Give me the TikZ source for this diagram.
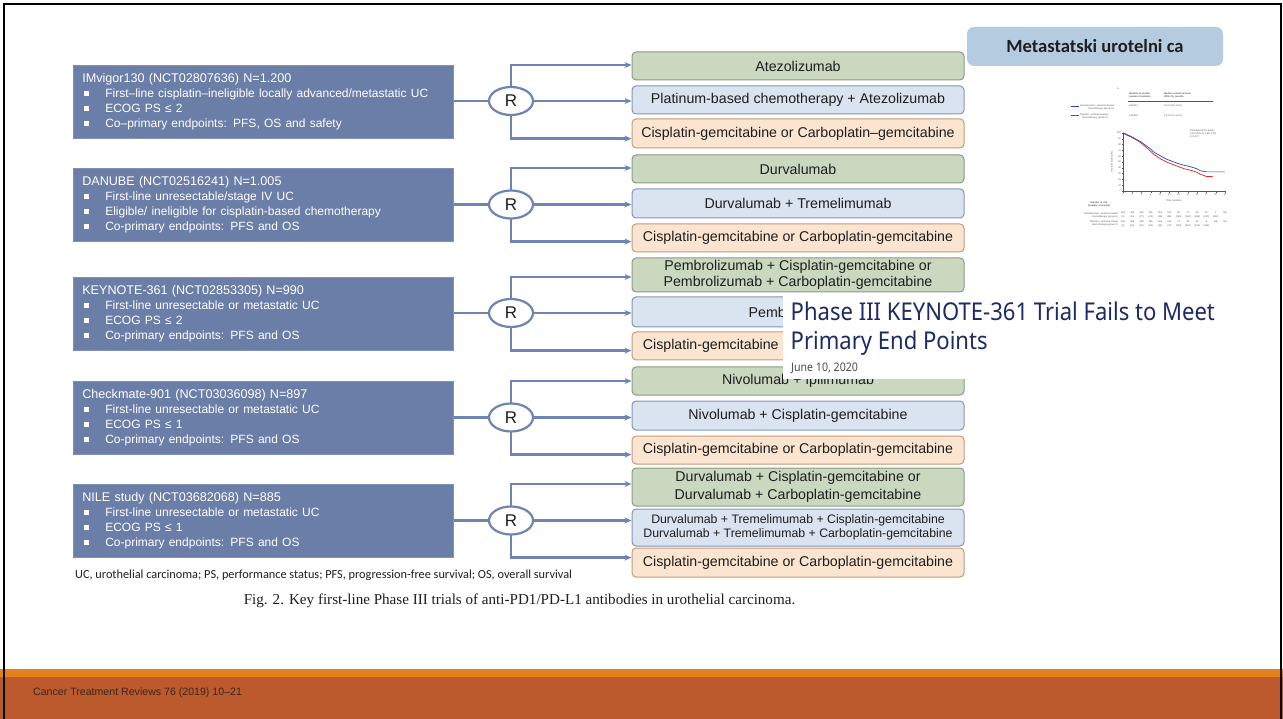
\documentclass[tikz,border=0pt]{standalone}
\usepackage{fontspec}
\setmainfont{Liberation Sans}
\newfontfamily\carlito{Carlito}
\newfontfamily\serifF{Liberation Serif}
\newfontfamily\ovfont[FakeStretch=0.9]{Noto Sans}
\usetikzlibrary{shapes.geometric,arrows.meta,calc}
\definecolor{lboxc}{RGB}{106,126,168}
\definecolor{armc}{RGB}{110,132,180}
\definecolor{txt}{RGB}{30,30,30}
\definecolor{gfill}{RGB}{203,216,192}
\definecolor{gdraw}{RGB}{140,154,132}
\definecolor{bfill}{RGB}{218,227,240}
\definecolor{bdraw}{RGB}{132,148,182}
\definecolor{ofill}{RGB}{251,228,208}
\definecolor{odraw}{RGB}{196,156,122}
\definecolor{titlec}{RGB}{181,204,224}
\definecolor{ovc}{RGB}{30,42,100}
\definecolor{orangec}{RGB}{227,130,26}
\definecolor{brownc}{RGB}{188,89,45}
\definecolor{foottxt}{RGB}{58,40,30}
\definecolor{kmtext}{RGB}{85,85,85}
\definecolor{kmblue}{RGB}{40,70,180}
\definecolor{kmred}{RGB}{230,30,30}
\newcommand\lbul{\makebox[23pt][l]{\hspace{2pt}\raisebox{2pt}{\rule{4.6pt}{4.6pt}}}}
\newcommand\bsz{\fontsize{12.0}{15.2}\selectfont}
\begin{document}
\begin{tikzpicture}[x=1pt,y=-1pt,
  lbox/.style={fill=lboxc, draw=lboxc!85!white, line width=0.6pt, minimum width=380pt,
    minimum height=73pt, text width=362pt, inner xsep=9pt, inner ysep=0pt, align=left,
    text=white, font=\fontsize{12.6}{15.2}\selectfont, anchor=north west},
  rbox/.style={draw, rounded corners=4pt, line width=1pt, minimum width=332pt, inner sep=1pt,
    align=center, text=txt, font=\fontsize{14.2}{16}\selectfont},
  gbox/.style={rbox, fill=gfill, draw=gdraw},
  bbox/.style={rbox, fill=bfill, draw=bdraw},
  obox/.style={rbox, fill=ofill, draw=odraw},
  rnode/.style={ellipse, draw=armc, line width=2.2pt, fill=white, minimum width=44pt,
    minimum height=28pt, inner sep=0pt, font=\fontsize{17}{17}\selectfont, text=txt},
  arm/.style={draw=armc, line width=2.5pt},
  armto/.style={arm, -{Stealth[length=7pt,width=6pt]}},
  kmt/.style={inner sep=0pt, text=kmtext, font=\fontsize{2.4}{2.9}\selectfont},
]
\useasboundingbox (0,0) rectangle (1283,719);
\fill[white] (0,0) rectangle (1283,719);

% ---------- left trial boxes ----------
\node[lbox] (L1) at (73,65) {IMvigor130 (NCT02807636) N=1.200\\
\lbul\bsz First–line cisplatin–ineligible locally advanced/metastatic UC\\
\lbul\bsz ECOG PS ≤ 2\\
\lbul\bsz Co–primary endpoints: PFS, OS and safety};
\node[lbox] (L2) at (73,168) {DANUBE (NCT02516241) N=1.005\\
\lbul\bsz First-line unresectable/stage IV UC\\
\lbul\bsz Eligible/ ineligible for cisplatin-based chemotherapy\\
\lbul\bsz Co-primary endpoints: PFS and OS};
\node[lbox] (L3) at (73,277) {KEYNOTE-361 (NCT02853305) N=990\\
\lbul\bsz First-line unresectable or metastatic UC\\
\lbul\bsz ECOG PS ≤ 2\\
\lbul\bsz Co-primary endpoints: PFS and OS};
\node[lbox] (L4) at (73,381) {Checkmate-901 (NCT03036098) N=897\\
\lbul\bsz First-line unresectable or metastatic UC\\
\lbul\bsz ECOG PS ≤ 1\\
\lbul\bsz Co-primary endpoints: PFS and OS};
\node[lbox] (L5) at (73,484) {NILE study (NCT03682068) N=885\\
\lbul\bsz First-line unresectable or metastatic UC\\
\lbul\bsz ECOG PS ≤ 1\\
\lbul\bsz Co-primary endpoints: PFS and OS};

% ---------- right arm boxes ----------
\node[gbox, minimum height=28pt] (a1) at (798,66) {Atezolizumab};
\node[bbox, minimum height=28pt] (b1) at (798,100) {Platinum-based chemotherapy + Atezolizumab};
\node[obox, minimum height=29pt] (c1) at (798,133.5) {Cisplatin-gemcitabine or Carboplatin–gemcitabine};

\node[gbox, minimum height=28pt] (a2) at (798,169) {Durvalumab};
\node[bbox, minimum height=29pt] (b2) at (798,203.5) {Durvalumab + Tremelimumab};
\node[obox, minimum height=28pt] (c2) at (798,238) {Cisplatin-gemcitabine or Carboplatin-gemcitabine};

\node[gbox, minimum height=34pt] (a3) at (798,275) {Pembrolizumab + Cisplatin-gemcitabine or\\Pembrolizumab + Carboplatin-gemcitabine};
\node[bbox, minimum height=30pt] (b3) at (798,312) {Pembrolizumab};
\node[obox, minimum height=28pt] (c3) at (798,346) {Cisplatin-gemcitabine or Carboplatin-gemcitabine};

\node[gbox, minimum height=28pt] (a4) at (798,381) {Nivolumab + Ipilimumab};
\node[bbox, minimum height=29pt] (b4) at (798,415.5) {Nivolumab + Cisplatin-gemcitabine};
\node[obox, minimum height=28pt] (c4) at (798,450) {Cisplatin-gemcitabine or Carboplatin-gemcitabine};

\node[gbox, minimum height=38pt, font=\fontsize{14.2}{17.5}\selectfont] (a5) at (798,487) {Durvalumab + Cisplatin-gemcitabine or\\Durvalumab + Carboplatin-gemcitabine};
\node[bbox, minimum height=37pt, font=\fontsize{12.3}{14.2}\selectfont] (b5) at (798,527.5) {Durvalumab + Tremelimumab + Cisplatin-gemcitabine\\Durvalumab + Tremelimumab + Carboplatin-gemcitabine};
\node[obox, minimum height=29pt] (c5) at (798,562.5) {Cisplatin-gemcitabine or Carboplatin-gemcitabine};

% ---------- randomisation nodes and connectors ----------
\foreach \i/\ry in {1/101,2/204.5,3/313,4/417.5,5/520.5}{
  \draw[arm] (L\i.east |- 0,\ry) -- (489,\ry);
}
\foreach \i/\ry in {1/101,2/204.5,3/313,4/417.5,5/520.5}{
  \coordinate (Rc\i) at (511,\ry);
  \draw[armto] (Rc\i) |- (a\i.west |- L\i.north);
  \draw[armto] (Rc\i) |- (c\i.west |- L\i.south);
  \draw[armto] (Rc\i) -- (b\i.west |- Rc\i);
  \node[rnode] (R\i) at (Rc\i) {R};
}

% ---------- captions ----------
\node[anchor=west, inner sep=0pt, text=txt, font=\carlito\fontsize{12.3}{14}\selectfont] (abbr) at (75,575)
  {UC, urothelial carcinoma; PS, performance status; PFS, progression-free survival; OS, overall survival};
\node[inner sep=0pt, text=txt, font=\serifF\fontsize{15.1}{16}\selectfont] (figcap) at (519.5,601)
  {Fig. 2. Key first-line Phase III trials of anti-PD1/PD-L1 antibodies in urothelial carcinoma.};

% ---------- slide title ----------
\node[fill=titlec, rounded corners=7pt, minimum width=256pt, minimum height=39pt, inner sep=0pt,
  text=txt, font=\carlito\bfseries\fontsize{18.6}{20}\selectfont] (title) at (1095,46.5) {Metastatski urotelni ca};

% ---------- small KM chart ----------
\node[kmt, anchor=west] (kmA) at (1117,89) {A};
\node[kmt, anchor=west, align=left, font=\bfseries\fontsize{2.4}{2.9}\selectfont] (kmh1) at (1129,95.5) {Number of events/\\number of patients};
\node[kmt, anchor=west, align=left, font=\bfseries\fontsize{2.4}{2.9}\selectfont] (kmh2) at (1164,95.5) {Median overall survival\\(95\% CI), months};
\draw[kmtext, line width=0.4pt] (1128,101.5) -- (1213,101.5);
\draw[kmblue, line width=0.6pt] (1071,106) -- (1079,106);
\node[kmt, anchor=west, align=right] (kml1) at (1080,107.5) {Atezolizumab + platinum-based\\chemotherapy (group A)};
\node[kmt, anchor=west] (kmn1) at (1129,106) {255/451};
\node[kmt, anchor=west] (kmm1) at (1164,106) {16.0 (13.9–18.9)};
\draw[kmred, line width=0.6pt] (1071,115) -- (1079,115);
\node[kmt, anchor=west, align=right] (kml2) at (1080,116.5) {Placebo + platinum-based\\chemotherapy (group C)};
\node[kmt, anchor=west] (kmn2) at (1129,115.5) {210/400};
\node[kmt, anchor=west] (kmm2) at (1164,115.5) {13.4 (12.0–15.2)};
\node[kmt, anchor=north west, align=left] (kmhr) at (1190,130) {Stratified HR for death,\\0.83 (95\% CI 0.69–1.00)\\p=0.027};
\begin{scope}[shift={(1123,191)}, x=3.09pt, y=0.58pt]
  \draw[kmtext, line width=0.35pt] (0,100) -- (0,0) -- (33,0);
  \foreach \t in {0,10,...,100}{
    \draw[kmtext, line width=0.3pt] (0,\t) -- (-0.4,\t);
    \node[kmt, anchor=east] at (-0.6,\t) {\t};
  }
  \foreach \m in {0,3,...,33}{
    \draw[kmtext, line width=0.3pt] (\m,0) -- (\m,-3);
    \node[kmt, anchor=north] at (\m,-5) {\m};
  }
  \node[kmt, rotate=90] (kmyl) at (-3.6,50) {Overall survival (\%)};
  \node[kmt] (kmxl) at (16.5,-17) {Time (months)};
  \draw[kmred, line width=0.7pt] (0,100) -- (1,97) -- (3,92) -- (5,86) -- (6,82) -- (8,73) -- (9,68) -- (10,63)
    -- (12,56) -- (14,50) -- (15,48) -- (17,44) -- (18,42) -- (20,38) -- (21,37) -- (23,34) -- (24,32)
    -- (25,29) -- (26,27) -- (27,25) -- (29,25);
  \draw[kmblue, line width=0.7pt] (0,100) -- (1,98) -- (3,93) -- (5,87) -- (6,84) -- (8,76) -- (9,72) -- (10,67)
    -- (12,61) -- (14,55) -- (15,53) -- (17,49) -- (18,47) -- (20,44) -- (21,43) -- (23,40) -- (24,38)
    -- (25,35) -- (26,34) -- (27,33) -- (33,33);
  \foreach \m/\a/\ac/\c/\cc [count=\k] in {0/451/(0)/400/(0),3/409/(14)/359/(13),6/360/(17)/308/(20),
     9/301/(21)/261/(24),12/259/(26)/202/(40),15/193/(88)/133/(70),18/127/(148)/74/(109),
     21/71/(154)/40/(130),24/28/(184)/21/(153),27/10/(200)/8/(164),30/1/(212)/NE/{},33/NE/{}/NE/{}}{
    \node[kmt] at (\m,-38) {\a};
    \node[kmt] at (\m,-45) {\ac};
    \node[kmt] at (\m,-53) {\c};
    \node[kmt] at (\m,-60) {\cc};
  }
\end{scope}
\node[kmt, anchor=east, align=center, font=\bfseries\fontsize{2.4}{2.9}\selectfont] (kmrisk) at (1110,204.5) {Number at risk\\(number censored)};
\node[kmt, anchor=east, align=right] (kmra) at (1118,215) {Atezolizumab + platinum-based\\chemotherapy (group A)};
\node[kmt, anchor=east, align=right] (kmrc) at (1118,223.5) {Placebo + platinum-based\\chemotherapy (group C)};

% ---------- overlay (web article snippet) ----------
\fill[white] (783,294.5) rectangle (1236,379);
\node[anchor=base west, inner sep=0pt, text=ovc, font=\ovfont\fontsize{24.5}{29}\selectfont] (ov1) at (790.5,321) {Phase III KEYNOTE-361 Trial Fails to Meet};
\node[anchor=base west, inner sep=0pt, text=ovc, font=\ovfont\fontsize{24.5}{29}\selectfont] (ov2) at (790.5,350) {Primary End Points};
\node[anchor=base west, inner sep=0pt, text=black!70, font=\ovfont\fontsize{11.8}{14}\selectfont] (ovd) at (791,372) {June 10, 2020};

% ---------- footer ----------
\fill[orangec] (0,669) rectangle (1283,676.5);
\fill[brownc] (0,676.5) rectangle (1283,719);
\node[anchor=west, inner sep=0pt, text=foottxt, font=\fontsize{10.6}{12}\selectfont] (foot) at (33,693) {Cancer Treatment Reviews 76 (2019) 10–21};

% ---------- slide frame ----------
\draw[black, line width=2pt] (4,725) -- (4,4) -- (1281,4) -- (1281,725);
\end{tikzpicture}
\end{document}
